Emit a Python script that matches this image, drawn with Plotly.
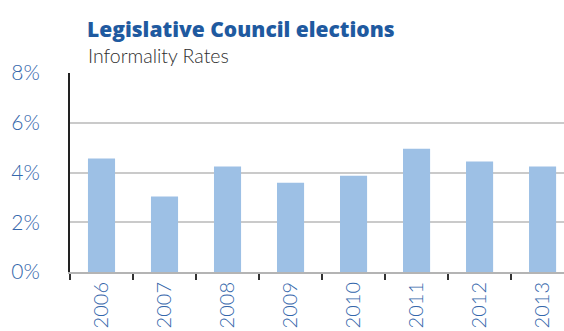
import plotly.graph_objects as go

# Informality rates, Legislative Council elections
years = ["2006", "2007", "2008", "2009", "2010", "2011", "2012", "2013"]
informal_pct = [4.56, 3.04, 4.24, 3.59, 3.87, 4.95, 4.44, 4.24]

W, H = 564, 331
L, T, B = 70, 73, 59
plot_h = H - T - B

def py(px):
    # convert a pixel row to paper y
    return (H - B - px) / plot_h

def px_x(px):
    return (px - L) / (W - L)

fig = go.Figure(
    go.Bar(
        x=years,
        y=informal_pct,
        marker=dict(color="#9dc0e5", line=dict(width=0)),
        width=0.43,
    )
)

fig.update_layout(
    width=W,
    height=H,
    margin=dict(l=L, r=0, t=T, b=B, pad=0),
    paper_bgcolor="white",
    plot_bgcolor="white",
    showlegend=False,
    font=dict(family="Lato, 'Open Sans', sans-serif"),
    annotations=[
        dict(
            text="Legislative Council elections",
            xref="paper", yref="paper",
            x=px_x(85), y=py(29),
            xanchor="left", yanchor="middle",
            showarrow=False,
            font=dict(size=21, color="#1f5aa0", family="'Open Sans', sans-serif", weight=800),
        ),
        dict(
            text="Informality Rates",
            xref="paper", yref="paper",
            x=px_x(86), y=py(56),
            xanchor="left", yanchor="middle",
            showarrow=False,
            font=dict(size=19.5, color="#2e2e2e", family="Lato, sans-serif", weight=300),
        ),
    ],
)

fig.update_xaxes(
    type="category",
    range=[-0.5, 7.34],
    tickson="boundaries",
    ticks="outside",
    ticklen=6,
    tickwidth=2,
    tickcolor="#333333",
    showline=True,
    linecolor="#b4b4b4",
    linewidth=2,
    showgrid=False,
    tickangle=-90,
    tickfont=dict(size=20, color="#3567ab", weight=300),
)

fig.update_yaxes(
    range=[0, 8],
    dtick=2,
    ticksuffix="%",
    showline=True,
    linecolor="#222222",
    linewidth=2,
    showgrid=True,
    gridcolor="#cacaca",
    gridwidth=2,
    zeroline=False,
    ticks="",
    ticklabelstandoff=24,
    tickfont=dict(size=21, color="#3567ab", weight=300),
)

fig.write_html("out.html")
